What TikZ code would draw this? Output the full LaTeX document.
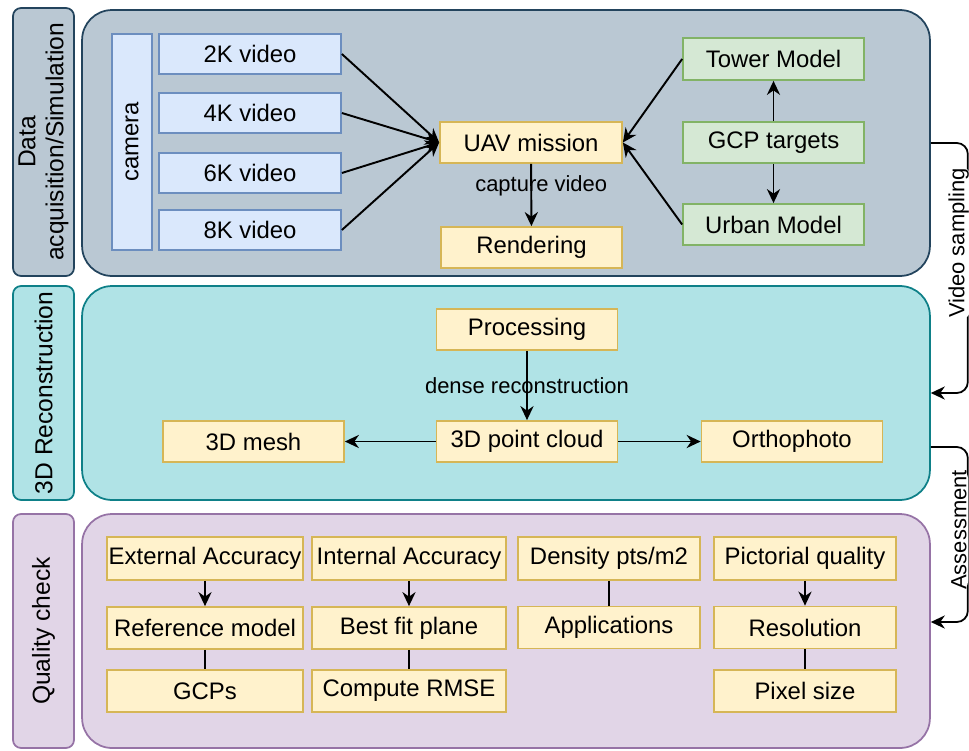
\documentclass[tikz,border=0pt]{standalone}
\usepackage{fontspec}
\setmainfont{Liberation Sans}
\usepackage{tikz}
\usetikzlibrary{arrows.meta}
\definecolor{acqfill}{HTML}{BAC8D3}
\definecolor{acqline}{HTML}{23445D}
\definecolor{recfill}{HTML}{B0E3E6}
\definecolor{recline}{HTML}{0E8088}
\definecolor{qcfill}{HTML}{E1D5E7}
\definecolor{qcline}{HTML}{9673A6}
\definecolor{ylwfill}{HTML}{FFF2CC}
\definecolor{ylwline}{HTML}{D6B656}
\definecolor{grnfill}{HTML}{D5E8D4}
\definecolor{grnline}{HTML}{82B366}
\definecolor{bluefill}{HTML}{DAE8FC}
\definecolor{blueline}{HTML}{6C8EBF}

\begin{document}
\begin{tikzpicture}[x=0.02cm,y=-0.02cm]
\useasboundingbox (0,0) rectangle (969,750);

% stages
\begin{scope}[every node/.style={draw,line width=1pt,rounded corners=0.6cm,minimum width=16.96cm}]
    \node[fill=acqfill,draw=acqline,minimum height=5.32cm] (acq) at (506,143) {};
    \node[fill=recfill,draw=recline,minimum height=4.28cm] (rec) at (506,393) {};
    \node[fill=qcfill,draw=qcline,minimum height=4.68cm] (qc) at (506,631) {};
\end{scope}
\begin{scope}[every node/.style={draw,line width=1pt,rounded corners=0.16cm,rotate=90,
              align=center,inner sep=1pt,minimum height=1.22cm,font=\fontsize{14}{16}\selectfont}]
    \node[fill=acqfill,draw=acqline,minimum width=5.36cm] (acqname) at (43.5,142) {Data\\acquisition/Simulation};
    \node[fill=recfill,draw=recline,minimum width=4.28cm] (recname) at (43.5,393) {3D Reconstruction};
    \node[fill=qcfill,draw=qcline,minimum width=4.68cm] (qcname) at (43.5,631) {Quality check};
\end{scope}

% acquisition
\begin{scope}[every node/.style={draw,line width=1pt,inner sep=1pt,font=\fontsize{13.6}{15}\selectfont}]
    \node[fill=bluefill,draw=blueline,rotate=90,minimum width=4.32cm,minimum height=0.8cm] (camera) at (132,142) {camera};
    \node[fill=bluefill,draw=blueline,minimum width=3.64cm,minimum height=0.8cm] (v2k) at (250,54) {2K video};
    \node[fill=bluefill,draw=blueline,minimum width=3.64cm,minimum height=0.8cm] (v4k) at (250,113) {4K video};
    \node[fill=bluefill,draw=blueline,minimum width=3.64cm,minimum height=0.8cm] (v6k) at (250,173) {6K video};
    \node[fill=bluefill,draw=blueline,minimum width=3.64cm,minimum height=0.8cm] (v8k) at (250,230) {8K video};
    \node[fill=ylwfill,draw=ylwline,minimum width=3.64cm,minimum height=0.82cm] (uav) at (531,142.5) {UAV mission};
    \node[fill=ylwfill,draw=ylwline,minimum width=3.62cm,minimum height=0.82cm] (render) at (531.5,247.5) {Rendering};
    \node[fill=grnfill,draw=grnline,minimum width=3.62cm,minimum height=0.84cm] (tower) at (773.5,59) {Tower Model};
    \node[fill=grnfill,draw=grnline,minimum width=3.62cm,minimum height=0.82cm] (gcp) at (773.5,142.5) {GCP targets};
    \node[fill=grnfill,draw=grnline,minimum width=3.62cm,minimum height=0.82cm] (urban) at (773.5,224.5) {Urban Model};
\end{scope}

% reconstruction
\begin{scope}[every node/.style={draw,line width=1pt,inner sep=1pt,fill=ylwfill,draw=ylwline,
              minimum width=3.62cm,minimum height=0.82cm,font=\fontsize{13.6}{15}\selectfont}]
    \node (processing) at (527,329.5) {Processing};
    \node (cloud) at (527,441.5) {3D point cloud};
    \node (mesh) at (253.5,441.5) {3D mesh};
    \node (ortho) at (792,441.5) {Orthophoto};
\end{scope}

% quality check
\begin{scope}[every node/.style={draw,line width=1pt,inner sep=0pt,fill=ylwfill,draw=ylwline,
              minimum height=0.84cm,font=\fontsize{13.6}{15}\selectfont}]
    \node[minimum width=3.92cm,minimum height=0.86cm] (extacc) at (205,558.5) {External Accuracy};
    \node[minimum width=3.92cm] (refmodel) at (205,628) {Reference model};
    \node[minimum width=3.92cm] (gcps) at (205,691) {GCPs};
    \node[minimum width=3.88cm,minimum height=0.86cm] (intacc) at (409,558.5) {Internal Accuracy};
    \node[minimum width=3.88cm] (bestfit) at (409,628) {Best fit plane};
    \node[minimum width=3.88cm] (rmse) at (409,691) {Compute RMSE};
    \node[minimum width=3.64cm,minimum height=0.86cm] (density) at (609,558.5) {Density pts/m2};
    \node[minimum width=3.64cm] (apps) at (609,627.5) {Applications};
    \node[minimum width=3.64cm,minimum height=0.86cm] (pictorial) at (805,558.5) {Pictorial quality};
    \node[minimum width=3.64cm] (resol) at (805,627.5) {Resolution};
    \node[minimum width=3.64cm] (pixsize) at (805,691) {Pixel size};
\end{scope}

\begin{scope}[>={Stealth[length=8pt,width=7.5pt]},
              every node/.style={font=\fontsize{12.5}{14}\selectfont,inner sep=1pt},
              every edge/.style={draw=black,line width=1.1pt}]
    \path [->] (v2k.east) edge (uav.west);
    \path [->] (v4k.east) edge (uav.west);
    \path [->] (v6k.east) edge (uav.west);
    \path [->] (v8k.east) edge (uav.west);
    \path [->] (tower.west) edge (uav.east);
    \path [->] (urban.west) edge (uav.east);
    \path [->] (gcp) edge (tower);
    \path [->] (gcp) edge (urban);
    \path [->] (uav) edge node[pos=0.35,xshift=0.2cm] {capture video} (render);
    \path [->] (processing) edge node {dense reconstruction} (cloud);
    \path [->] (cloud) edge (mesh);
    \path [->] (cloud) edge (ortho);
    \path [->] (extacc) edge (refmodel);
    \path [->] (intacc) edge (bestfit);
    \path [->] (pictorial) edge (resol);
\end{scope}

\begin{scope}[every edge/.style={draw=black,line width=1.1pt}]
    \path [-] (refmodel) edge (gcps);
    \path [-] (bestfit) edge (rmse);
    \path [-] (density) edge (apps);
    \path [-] (resol) edge (pixsize);
\end{scope}

% links between stages
\coordinate (recout) at ([yshift=-1.08cm]rec.east);
\coordinate (qcin) at ([yshift=0.18cm]qc.east);
\begin{scope}[>={Stealth[length=8pt,width=7.5pt]},line width=1pt,rounded corners=0.22cm,
              every node/.style={fill=white,inner sep=1pt,font=\fontsize{12.5}{14}\selectfont}]
    \draw [->] (acq.east) -- ++(37,0) |- node[pos=0.2,xshift=-0.18cm,rotate=90] {Video sampling} (rec.east);
    \draw [->] (recout) -- ++(37,0) |- node[pos=0.237,xshift=-0.18cm,rotate=90] {Assessment} (qcin);
\end{scope}

\end{tikzpicture}
\end{document}
